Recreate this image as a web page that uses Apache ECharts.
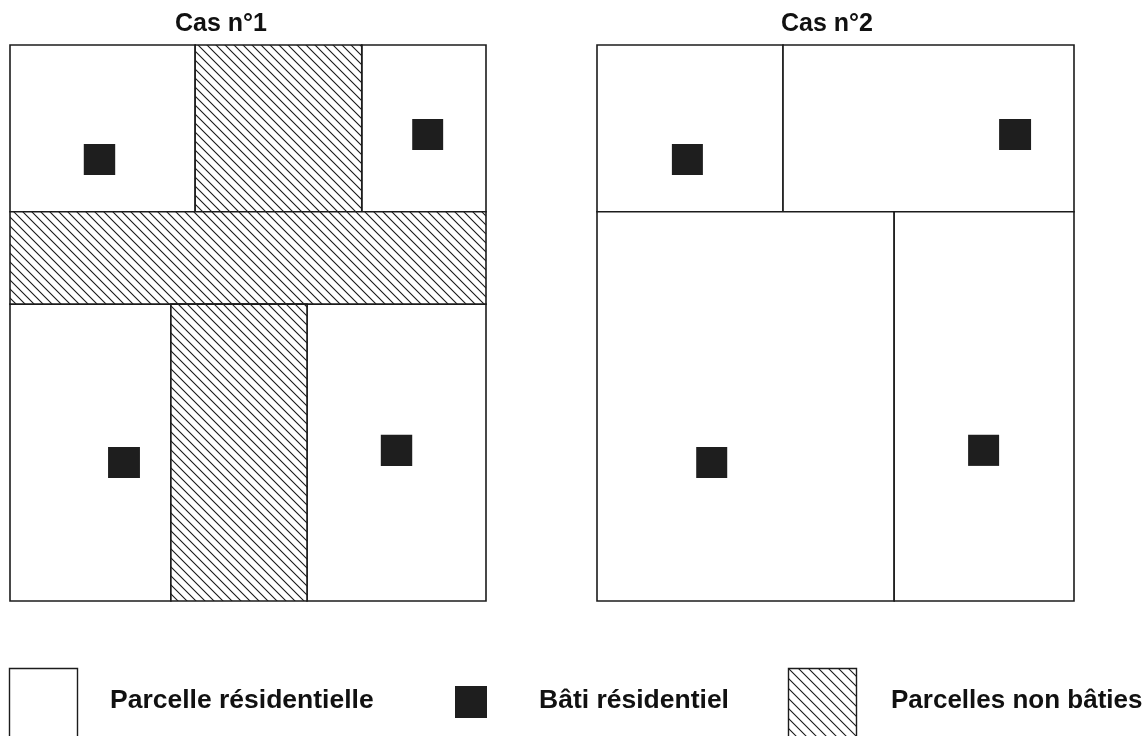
<!DOCTYPE html>
<html>
<head>
<meta charset="utf-8">
<script src="https://cdn.jsdelivr.net/npm/echarts@6/dist/echarts.min.js"></script>
<style>html,body{margin:0;padding:0;background:#fff}#c{width:1146px;height:736px}</style>
</head>
<body>
<div id="c"></div>
<script>
// Layout data in relative units (0-100 across each case's plot)
const caseTitles = ['Cas n°1', 'Cas n°2'];
// [x0, y0, x1, y1]
const case1Parcels = [[0, 0, 38.9, 30], [73.9, 0, 100, 30], [0, 46.6, 33.8, 100], [62.4, 46.6, 100, 100]];
const case1Vacant = [[38.9, 0, 73.9, 30], [0, 30, 100, 46.6], [33.8, 46.6, 62.4, 100]];
const case1Buildings = [[15.5, 17.8, 22.1, 23.4], [84.5, 13.3, 91.0, 18.9], [20.6, 72.3, 27.3, 77.9], [77.9, 70.1, 84.5, 75.7]];
const case2Parcels = [[0, 0, 39.0, 30], [39.0, 0, 100, 30], [0, 30, 62.3, 100], [62.3, 30, 100, 100]];
const case2Vacant = [];
const case2Buildings = [[15.7, 17.8, 22.2, 23.4], [84.3, 13.3, 91.0, 18.9], [20.8, 72.3, 27.3, 77.9], [77.8, 70.1, 84.3, 75.7]];
const legendLabels = ['Parcelle résidentielle', 'Bâti résidentiel', 'Parcelles non bâties'];

const INK = '#1c1c1c';
const FONT = '"Liberation Sans", Arial, sans-serif';

// hatch pattern "\\"
function makeHatch(S) {
  const pc = document.createElement('canvas');
  pc.width = S; pc.height = S;
  const g = pc.getContext('2d');
  g.fillStyle = '#fff'; g.fillRect(0, 0, S, S);
  g.strokeStyle = '#1a1a1a'; g.lineWidth = 1.1;
  g.beginPath();
  g.moveTo(-1, -1); g.lineTo(S + 1, S + 1);
  g.moveTo(-1, S - 1); g.lineTo(1, S + 1);
  g.moveTo(S - 1, -1); g.lineTo(S + 1, 1);
  g.stroke();
  return { image: pc, repeat: 'repeat' };
}
const hatch = makeHatch(9);
const hatchLegend = makeHatch(10);

function rectSeries(name, data, gridIdx, fill, stroke, lw, z) {
  return {
    type: 'custom', name: name, xAxisIndex: gridIdx, yAxisIndex: gridIdx, z: z,
    encode: { x: [0, 2], y: [1, 3] },
    data: data,
    silent: true,
    renderItem: function (params, api) {
      const p0 = api.coord([api.value(0), api.value(1)]);
      const p1 = api.coord([api.value(2), api.value(3)]);
      return {
        type: 'rect',
        shape: { x: p0[0], y: p0[1], width: p1[0] - p0[0], height: p1[1] - p0[1] },
        style: { fill: fill, stroke: stroke, lineWidth: lw }
      };
    }
  };
}

const grids = [
  { left: 10, top: 45, width: 476, height: 556 },
  { left: 597, top: 45, width: 477, height: 556 }
];
const xAxes = grids.map((_, i) => ({ type: 'value', gridIndex: i, min: 0, max: 100, show: false }));
const yAxes = grids.map((_, i) => ({ type: 'value', gridIndex: i, min: 0, max: 100, inverse: true, show: false }));

const series = [
  rectSeries('Parcelle résidentielle', case1Parcels, 0, '#fff', INK, 1.6, 1),
  rectSeries('Parcelles non bâties', case1Vacant, 0, hatch, INK, 1.6, 2),
  rectSeries('Bâti résidentiel', case1Buildings, 0, '#1e1e1e', null, 0, 3),
  rectSeries('Parcelle résidentielle', case2Parcels, 1, '#fff', INK, 1.6, 1),
  rectSeries('Parcelles non bâties', case2Vacant, 1, hatch, INK, 1.6, 2),
  rectSeries('Bâti résidentiel', case2Buildings, 1, '#1e1e1e', null, 0, 3)
];

const titleStyle = { font: 'bold 25px ' + FONT, fill: '#111', align: 'center', verticalAlign: 'middle' };
const legStyle = (t, fs) => ({ text: t, font: 'bold ' + fs + 'px ' + FONT, fill: '#111', align: 'left', verticalAlign: 'middle' });

const graphic = [
  { type: 'text', x: 221, y: 24, style: Object.assign({ text: caseTitles[0] }, titleStyle) },
  { type: 'text', x: 827, y: 24, style: Object.assign({ text: caseTitles[1] }, titleStyle) },
  // legend
  { type: 'rect', shape: { x: 9.5, y: 668.5, width: 68, height: 72 }, style: { fill: '#fff', stroke: INK, lineWidth: 1.4 } },
  { type: 'text', x: 110, y: 701, style: legStyle(legendLabels[0], 26.5) },
  { type: 'rect', shape: { x: 455, y: 686, width: 32, height: 32 }, style: { fill: '#1e1e1e' } },
  { type: 'text', x: 539, y: 701, style: legStyle(legendLabels[1], 26.5) },
  { type: 'rect', shape: { x: 788.5, y: 668.5, width: 68, height: 72 }, style: { fill: hatchLegend, stroke: INK, lineWidth: 1.4 } },
  { type: 'text', x: 891, y: 701, style: legStyle(legendLabels[2], 26) }
];

const chart = echarts.init(document.getElementById('c'), null, { renderer: 'canvas' });
chart.setOption({
  animation: false,
  backgroundColor: '#fff',
  grid: grids,
  xAxis: xAxes,
  yAxis: yAxes,
  series: series,
  graphic: graphic
});
</script>
</body>
</html>
